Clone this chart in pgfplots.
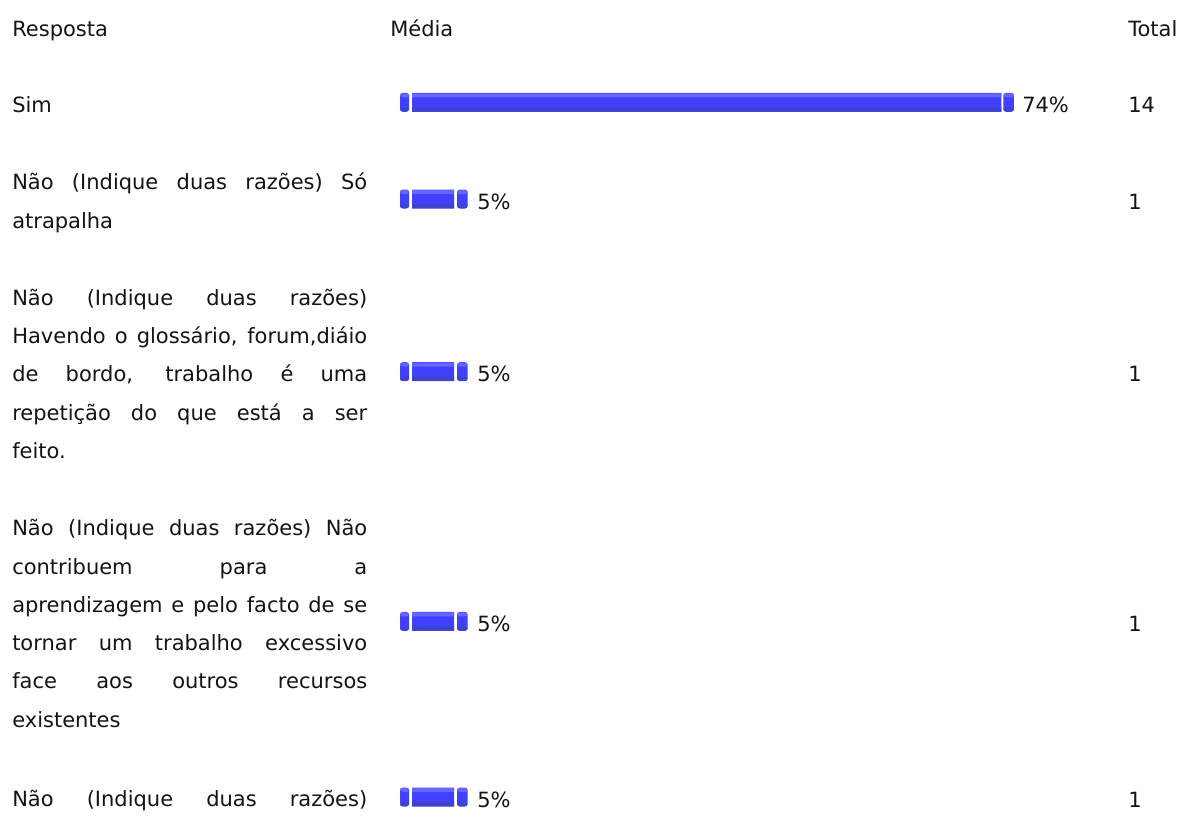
\documentclass[border=0pt]{standalone}
\usepackage{pgfplots}
\pgfplotsset{compat=1.18}
\usepackage{pgfplotstable}
\usepackage{fontspec}
\setmainfont{DejaVu Sans}
\definecolor{bmain}{RGB}{64,64,255}
\definecolor{blight}{RGB}{102,102,255}
\definecolor{bdark}{RGB}{66,66,200}
\definecolor{txt}{RGB}{20,20,20}
\pgfplotstableread{
y     pct    off cap1 gap1 gap2 cap2
102.3 73.68  400 9    3    2    10.5
199   5.26   400 9    3    3    10.5
371.7 5.26   400 9    3    3    10.5
621.4 5.26   400 9    3    3    10.5
797   5.26   400 9    3    3    10.5
}\bars
\newlength\px
\setlength\px{0.75pt}
\newcommand{\J}[1]{\makebox[355\px][s]{#1}}
\pgfplotsset{baraxis/.style={
  at={(0,0)}, anchor=north west,
  scale only axis, width=885.75pt, height=614.25pt,
  xmin=0, xmax=1181, ymin=0, ymax=819, y dir=reverse,
  axis lines=none, ticks=none, enlargelimits=false, clip=false,
  xbar stacked}}
\newcommand{\barlayer}[1]{%
\addplot[draw=none, fill=none] table[x=off, y=y] {\bars};
\addplot[draw=none, fill=#1, rounded corners=2pt] table[x=cap1, y=y] {\bars};
\addplot[draw=none, fill=none] table[x=gap1, y=y] {\bars};
\addplot[draw=none, fill=#1] table[x expr=\thisrow{pct}*8, y=y] {\bars};
\addplot[draw=none, fill=none] table[x=gap2, y=y] {\bars};
\addplot[draw=none, fill=#1, rounded corners=2pt] table[x=cap2, y=y] {\bars};}
\begin{document}
\begin{tikzpicture}[x=0.75pt,y=-0.75pt]
\path[use as bounding box] (0,0) rectangle (1181,819);
\clip (0,0) rectangle (1181,819);
\begin{axis}[baraxis, bar width=14.25pt]
\barlayer{bmain}
\end{axis}
\begin{axis}[baraxis, bar width=3pt, bar shift=5.25pt]
\barlayer{blight}
\end{axis}
\begin{axis}[baraxis, bar width=3pt, bar shift=-5.25pt]
\barlayer{bdark}
\end{axis}
\fontsize{15.75pt}{25.5pt}\selectfont
\tikzset{lab/.style={anchor=base west, inner sep=0pt, text=txt}}
% header
\node[lab] at (12,36.3) {Resposta};
\node[lab] at (390,36.3) {Média};
\node[lab] at (1128,36.3) {Total};
% row 1
\node[lab] at (12,112.3) {Sim};
\node[lab] at (1022,112.3) {74\%};
\node[lab] at (1128,112.3) {14};
% row 2
\node[lab] at (12,189.7) {\J{Não (Indique duas razões) Só}};
\node[lab] at (12,228) {atrapalha};
\node[lab] at (477,209) {5\%};
\node[lab] at (1128,209) {1};
% row 3
\node[lab] at (12,305.2) {\J{Não (Indique duas razões)}};
\node[lab] at (12,343.5) {\J{Havendo o glossário, forum,diáio}};
\node[lab] at (12,381.8) {\J{de bordo, trabalho é uma}};
\node[lab] at (12,420.1) {\J{repetição do que está a ser}};
\node[lab] at (12,458.4) {feito.};
\node[lab] at (477,381.7) {5\%};
\node[lab] at (1128,381.7) {1};
% row 4
\node[lab] at (12,535.7) {\J{Não (Indique duas razões) Não}};
\node[lab] at (12,574) {\J{contribuem para a}};
\node[lab] at (12,612.3) {\J{aprendizagem e pelo facto de se}};
\node[lab] at (12,650.6) {\J{tornar um trabalho excessivo}};
\node[lab] at (12,688.9) {\J{face aos outros recursos}};
\node[lab] at (12,727.2) {existentes};
\node[lab] at (477,631.4) {5\%};
\node[lab] at (1128,631.4) {1};
% row 5
\node[lab] at (12,806.5) {\J{Não (Indique duas razões)}};
\node[lab] at (477,807) {5\%};
\node[lab] at (1128,807) {1};
\end{tikzpicture}
\end{document}
